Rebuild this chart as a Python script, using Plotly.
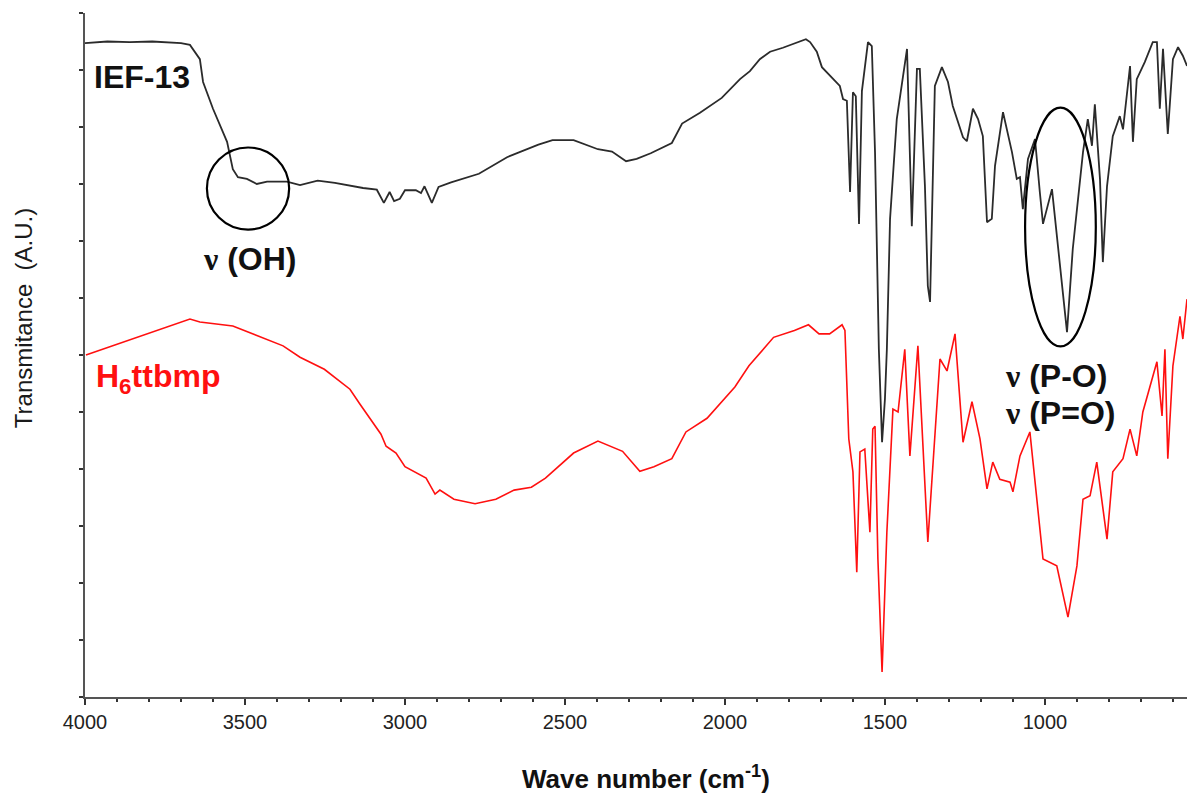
import plotly.graph_objects as go

# FT-IR spectra: wavenumber (cm-1) vs. transmittance (arbitrary units, curves offset)
ief13_wn = [4000, 3930, 3860, 3790, 3700, 3672, 3641, 3631, 3600, 3556, 3538, 3522,
            3494, 3463, 3431, 3369, 3328, 3273, 3219, 3131, 3088, 3066, 3048, 3034,
            3016, 3000, 2966, 2950, 2939, 2916, 2895, 2856, 2769, 2681, 2583, 2539,
            2473, 2397, 2353, 2309, 2276, 2232, 2166, 2134, 2078, 2010, 1953, 1922,
            1891, 1859, 1819, 1788, 1766, 1747, 1734, 1713, 1697, 1663, 1641, 1631,
            1619, 1609, 1600, 1591, 1581, 1572, 1553, 1541, 1531, 1519, 1509, 1500,
            1494, 1484, 1463, 1431, 1416, 1400, 1391, 1375, 1366, 1359, 1344, 1322,
            1303, 1288, 1256, 1244, 1225, 1209, 1194, 1181, 1166, 1156, 1131, 1103,
            1088, 1078, 1069, 1053, 1031, 1016, 1006, 978, 963, 931, 913, 881,
            866, 853, 844, 828, 819, 806, 788, 766, 756, 744, 734, 725,
            713, 688, 663, 650, 641, 631, 616, 600, 584, 569, 556]
ief13_t = [11.47, 11.50, 11.49, 11.50, 11.47, 11.44, 11.19, 10.79, 10.32, 9.74, 9.26, 9.12,
           9.09, 9.00, 9.04, 9.04, 8.98, 9.06, 9.02, 8.93, 8.90, 8.67, 8.86, 8.70,
           8.74, 8.89, 8.89, 8.84, 8.96, 8.67, 8.95, 9.03, 9.18, 9.47, 9.69, 9.77,
           9.77, 9.61, 9.57, 9.40, 9.44, 9.54, 9.72, 10.06, 10.25, 10.51, 10.84, 10.98,
           11.19, 11.32, 11.39, 11.46, 11.51, 11.54, 11.49, 11.32, 11.05, 10.84, 10.72, 10.49,
           10.46, 8.86, 10.61, 10.54, 8.30, 10.63, 11.49, 11.42, 9.56, 6.10, 4.47, 5.23,
           6.10, 8.39, 10.14, 11.37, 8.26, 11.02, 11.02, 8.96, 7.21, 6.93, 10.72, 11.05,
           10.79, 10.37, 9.82, 9.75, 10.32, 10.14, 9.84, 8.33, 8.39, 9.32, 10.26, 9.56,
           9.09, 9.12, 8.56, 9.44, 9.79, 8.86, 8.30, 8.91, 8.09, 6.40, 7.86, 9.56,
           10.14, 9.67, 10.40, 9.09, 7.63, 8.96, 9.84, 10.19, 9.96, 10.54, 11.07, 9.74,
           10.84, 11.14, 11.49, 11.49, 10.32, 11.37, 9.88, 11.19, 11.40, 11.25, 11.07]

ligand_wn = [3997, 3850, 3694, 3672, 3641, 3538, 3381, 3328, 3252, 3172, 3141, 3075,
             3059, 3028, 3000, 2956, 2934, 2906, 2891, 2847, 2781, 2716, 2659, 2605,
             2561, 2473, 2397, 2320, 2266, 2222, 2166, 2122, 2056, 1969, 1925, 1848,
             1783, 1739, 1706, 1673, 1634, 1625, 1613, 1600, 1588, 1578, 1563, 1547,
             1538, 1531, 1522, 1509, 1494, 1475, 1459, 1438, 1422, 1397, 1366, 1328,
             1306, 1281, 1256, 1228, 1203, 1181, 1163, 1141, 1109, 1100, 1078, 1047,
             1006, 963, 928, 900, 881, 859, 838, 806, 788, 756, 734, 713,
             694, 650, 634, 625, 616, 600, 578, 569, 556]
ligand_t = [6.00, 6.28, 6.58, 6.63, 6.58, 6.51, 6.16, 5.96, 5.75, 5.40, 5.14, 4.61,
            4.40, 4.28, 4.04, 3.91, 3.84, 3.56, 3.63, 3.47, 3.39, 3.47, 3.63, 3.68,
            3.84, 4.28, 4.49, 4.31, 3.96, 4.04, 4.18, 4.65, 4.89, 5.44, 5.81, 6.31,
            6.43, 6.53, 6.37, 6.37, 6.53, 6.43, 4.53, 3.95, 2.19, 4.30, 4.35, 2.89,
            4.70, 4.75, 2.42, 0.44, 2.89, 5.05, 5.00, 6.10, 4.23, 6.16, 2.72, 5.93,
            5.72, 6.37, 4.47, 5.18, 4.53, 3.65, 4.12, 3.82, 3.77, 3.60, 4.23, 4.65,
            2.42, 2.30, 1.40, 2.30, 3.47, 3.53, 4.12, 2.77, 3.95, 4.18, 4.70, 4.23,
            5.00, 5.88, 4.93, 6.10, 4.18, 5.81, 6.68, 6.28, 6.98]

x_ticks = [4000, 3500, 3000, 2500, 2000, 1500, 1000]

FONT = "Arial, Liberation Sans, sans-serif"
SERIF = "Times New Roman, Liberation Serif, serif"

fig = go.Figure()
fig.add_trace(go.Scatter(x=ief13_wn, y=ief13_t, mode="lines",
                         line=dict(color="#2b2b2b", width=1.8), name="IEF-13"))
fig.add_trace(go.Scatter(x=ligand_wn, y=ligand_t, mode="lines",
                         line=dict(color="#ff1010", width=1.6), name="H6ttbmp"))

nu = f'<span style="font-family:{SERIF}">ν</span>'

annotations = [
    dict(x=3978, y=10.88, text="<b>IEF-13</b>", xanchor="left", yanchor="middle",
         font=dict(family=FONT, size=32, color="#111111")),
    dict(x=3972, y=5.58, text="<b>H<sub>6</sub>ttbmp</b>", xanchor="left", yanchor="middle",
         font=dict(family=FONT, size=32, color="#ff1010")),
    dict(x=3484, y=7.69, text=f"<b>{nu} (OH)</b>", xanchor="center", yanchor="middle",
         font=dict(family=FONT, size=32, color="#111111")),
    dict(x=1131, y=5.64, text=f"<b>{nu} (P-O)</b>", xanchor="left", yanchor="middle",
         font=dict(family=FONT, size=32, color="#111111")),
    dict(x=1131, y=4.98, text=f"<b>{nu} (P=O)</b>", xanchor="left", yanchor="middle",
         font=dict(family=FONT, size=32, color="#111111")),
    dict(xref="paper", yref="paper", x=-0.0555, y=0.555, text="Transmitance  (A.U.)",
         textangle=-90, xanchor="center", yanchor="middle",
         font=dict(family=FONT, size=24, color="#1a1a1a")),
    dict(xref="paper", yref="paper", x=0.509, y=-0.118,
         text="<b>Wave number (cm<sup>-1</sup>)</b>",
         xanchor="center", yanchor="middle",
         font=dict(family=FONT, size=26, color="#111111")),
]
for a in annotations:
    a.setdefault("showarrow", False)

shapes = [
    dict(type="circle", xref="x", yref="y", x0=3619, x1=3362, y0=8.20, y1=9.64,
         line=dict(color="#000000", width=2.2)),
    dict(type="circle", xref="x", yref="y", x0=1062, x1=841, y0=6.15, y1=10.34,
         line=dict(color="#000000", width=2.2)),
]

fig.update_layout(
    width=1187, height=797,
    margin=dict(l=85, r=0, t=13, b=100),
    paper_bgcolor="white", plot_bgcolor="white",
    showlegend=False,
    annotations=annotations,
    shapes=shapes,
    xaxis=dict(
        range=[4000, 556], tickmode="array", tickvals=x_ticks,
        ticktext=[str(v) for v in x_ticks],
        ticks="outside", ticklen=6, tickwidth=1.5, tickcolor="#333333",
        minor=dict(dtick=100, tick0=0, ticks="outside", ticklen=3, tickwidth=1.5,
                   tickcolor="#333333", showgrid=False),
        showline=True, linecolor="#555555", linewidth=2,
        showgrid=False, zeroline=False,
        tickfont=dict(family=FONT, size=20, color="#222222"),
    ),
    yaxis=dict(
        range=[0, 12], dtick=1, tick0=0,
        ticks="outside", ticklen=4, tickwidth=1.5, tickcolor="#333333",
        showticklabels=False,
        showline=True, linecolor="#555555", linewidth=2,
        showgrid=False, zeroline=False,
    ),
)

fig.write_html("out.html")
